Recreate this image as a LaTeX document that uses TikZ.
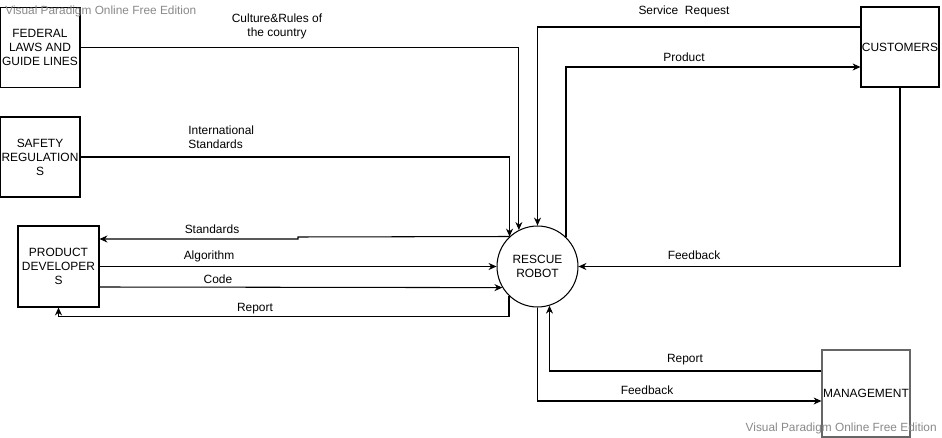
\documentclass[tikz,border=0pt]{standalone}
\usepackage{fontspec}
\setmainfont{Liberation Sans}
\usepackage{tikz}
\usetikzlibrary{arrows.meta, positioning}
\definecolor{vpgray}{HTML}{8A8A8A}
\definecolor{mgmtgray}{HTML}{666666}

\begin{document}
\begin{tikzpicture}[
    x=0.02cm, y=-0.02cm,
    every node/.style={font=\fontsize{6.8}{8}\selectfont},
    entity_node/.style={rectangle, draw=black, line width=0.6pt, inner sep=0pt, align=center, minimum width=1.6cm, minimum height=1.6cm},
    process_node/.style={circle, draw=black, line width=0.6pt, inner sep=0pt, align=center, minimum size=1.62cm},
    flow_label/.style={inner sep=0pt, align=center},
    watermark/.style={inner sep=0pt, text=vpgray, font=\fontsize{6.75}{8}\selectfont},
    arrow/.style={-{Stealth[length=4.5pt, width=4pt]}, line width=0.6pt, draw=black}
]
\useasboundingbox[fill=white] (0,0) rectangle (942,438);

\node[process_node] (robot) at (537.5,266.5) {RESCUE\\ROBOT};

% External entities
\node[entity_node] (federal) at (40,47.5) {FEDERAL\\LAWS AND\\GUIDE LINES};
\node[entity_node] (safety) at (40,157) {SAFETY\\REGULATION\\S};
\node[entity_node, minimum width=1.62cm, minimum height=1.62cm] (developers) at (58.5,266.5) {PRODUCT\\DEVELOPER\\S};
\node[entity_node, minimum width=1.56cm] (customers) at (900,47) {CUSTOMERS};
\node[entity_node, draw=mgmtgray, minimum width=1.76cm, minimum height=1.74cm] (management) at (866,393.5) {MANAGEMENT};

% Labels
\node[flow_label] (lblculture) at (277,26) {Culture\&Rules of\\the country};
\node[flow_label, anchor=west, align=left] (lblinter) at (188,137) {International\\Standards};
\node[flow_label] (lblservice) at (684,11) {Service\ \ Request};
\node[flow_label] (lblproduct) at (684,57) {Product};
\node[flow_label] (lblfeedcust) at (694,255) {Feedback};
\node[flow_label] (lblstandards) at (212,229) {Standards};
\node[flow_label] (lblalgorithm) at (209,256) {Algorithm};
\node[flow_label] (lblcode) at (218,279) {Code};
\node[flow_label] (lblreportdev) at (255,309) {Report};
\node[flow_label] (lblreportmgmt) at (685,360) {Report};
\node[flow_label] (lblfeedmgmt) at (647,390) {Feedback};

% Watermarks
\node[watermark, anchor=west] (wmtop) at (5,11) {Visual Paradigm Online Free Edition};
\node[watermark, anchor=east] (wmbottom) at (937,428) {Visual Paradigm Online Free Edition};

% Connections
\draw[arrow] (federal.east) -| (robot.117.5);
\draw[arrow] (safety.east) -| (robot.133.5);
\draw[arrow] ([yshift=0.4cm]customers.west) -| (robot.north);
\draw[arrow] (robot.46.5) |- ([yshift=-0.4cm]customers.west);
\draw[arrow] (customers.south) |- (robot.east);
\draw[arrow] (robot.133) -- (298,237) -- (298,239) -- ([yshift=0.55cm]developers.east);
\draw[arrow] (developers.east) -- (robot.west);
\draw[arrow] ([yshift=-0.41cm]developers.east) -- (robot.211);
\draw[arrow] (robot.226.5) -- ++(0,20.5) -| (developers.south);
\draw[arrow] ([yshift=0.45cm]management.west) -| (robot.-73.3);
\draw[arrow] (robot.south) |- ([yshift=-0.15cm]management.west);

\end{tikzpicture}
\end{document}
